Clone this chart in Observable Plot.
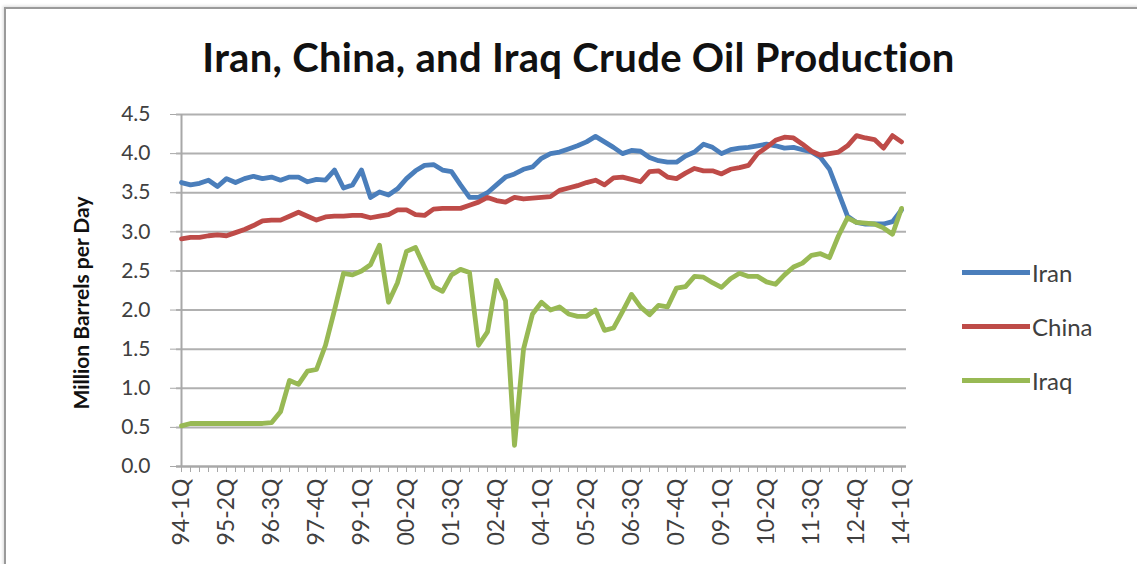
<!DOCTYPE html>
<html>
<head>
<meta charset="utf-8">
<script src="https://cdn.jsdelivr.net/npm/d3@7"></script>
<script src="https://cdn.jsdelivr.net/npm/@observablehq/plot@0.6"></script>
<style>
  html, body { margin: 0; padding: 0; background: #fff; }
  #wrap { position: relative; width: 1137px; height: 564px; overflow: hidden; font-family: Lato, "Open Sans", sans-serif; }
  #frame { position: absolute; left: 4px; top: 7px; width: 1200px; height: 620px; border-top: 2px solid #9a9a9a; border-left: 2px solid #9a9a9a; box-shadow: -1px -1px 3px rgba(0,0,0,0.15); }
  #title { position: absolute; left: 0; width: 1157px; top: 33px; text-align: center; font-size: 40px; font-weight: bold; color: #111; letter-spacing: 0.3px; }
  #ylabel { position: absolute; left: 80px; top: 303px; transform: translate(-50%, -50%) rotate(-90deg); white-space: nowrap; font-size: 21px; font-weight: bold; color: #111; }
  #legend { position: absolute; left: 962px; top: 245px; }
  .item { display: flex; align-items: center; height: 54px; font-size: 24px; color: #404040; }
  .swatch { width: 68px; height: 5px; margin-right: 2px; }
  #chart { position: absolute; left: 0; top: 0; }
</style>
</head>
<body>
<div id="wrap">
  <div id="frame"></div>
  <div id="chart"></div>
  <div id="title">Iran, China, and Iraq Crude Oil Production</div>
  <div id="ylabel">Million Barrels per Day</div>
  <div id="legend"></div>
</div>
<script>
const seriesNames = ["Iran", "China", "Iraq"];
const seriesColors = ["#4a7ebb", "#be4b48", "#98b954"];
const tickLabels = ["94-1Q","95-2Q","96-3Q","97-4Q","99-1Q","00-2Q","01-3Q","02-4Q","04-1Q","05-2Q","06-3Q","07-4Q","09-1Q","10-2Q","11-3Q","12-4Q","14-1Q"];
const yTicks = [0, 0.5, 1, 1.5, 2, 2.5, 3, 3.5, 4, 4.5];

// quarterly categories 94-1Q .. 14-1Q
const quarters = [];
for (let yr = 1994; yr <= 2014; yr++) {
  for (let q = 1; q <= 4; q++) {
    if (yr === 2014 && q > 1) break;
    quarters.push(String(yr % 100).padStart(2, "0") + "-" + q + "Q");
  }
}

const iran = [3.63,3.60,3.62,3.66,3.58,3.68,3.63,3.68,3.71,3.68,3.70,3.66,3.70,3.70,3.64,3.67,3.66,3.79,3.56,3.60,3.79,3.44,3.51,3.47,3.55,3.68,3.78,3.85,3.86,3.79,3.77,3.60,3.44,3.44,3.50,3.60,3.70,3.74,3.80,3.83,3.94,4.00,4.02,4.06,4.10,4.15,4.22,4.15,4.08,4.00,4.04,4.03,3.95,3.91,3.89,3.89,3.97,4.02,4.12,4.08,4.00,4.05,4.07,4.08,4.10,4.12,4.10,4.07,4.08,4.05,4.02,3.95,3.80,3.50,3.20,3.12,3.10,3.10,3.10,3.13,3.28];
const china = [2.91,2.93,2.93,2.95,2.96,2.95,2.99,3.03,3.08,3.14,3.15,3.15,3.20,3.25,3.20,3.15,3.19,3.20,3.20,3.21,3.21,3.18,3.20,3.22,3.28,3.28,3.22,3.21,3.29,3.30,3.30,3.30,3.34,3.38,3.44,3.40,3.38,3.44,3.42,3.43,3.44,3.45,3.53,3.56,3.59,3.63,3.66,3.60,3.69,3.70,3.67,3.64,3.77,3.78,3.70,3.68,3.75,3.81,3.78,3.78,3.74,3.80,3.82,3.85,4.00,4.08,4.17,4.21,4.20,4.12,4.03,3.98,4.00,4.02,4.10,4.23,4.20,4.18,4.07,4.23,4.15];
const iraq = [0.52,0.55,0.55,0.55,0.55,0.55,0.55,0.55,0.55,0.55,0.56,0.70,1.10,1.05,1.22,1.24,1.55,2.00,2.47,2.45,2.50,2.58,2.83,2.10,2.35,2.75,2.80,2.55,2.30,2.24,2.45,2.52,2.48,1.55,1.72,2.38,2.12,0.27,1.50,1.95,2.10,2.00,2.04,1.95,1.92,1.92,2.00,1.74,1.77,1.98,2.20,2.04,1.94,2.06,2.04,2.28,2.30,2.43,2.42,2.35,2.29,2.40,2.47,2.43,2.43,2.36,2.33,2.45,2.55,2.60,2.70,2.72,2.67,2.95,3.18,3.12,3.11,3.10,3.05,2.97,3.30];

const seriesValues = [iran, china, iraq];
const data = [];
seriesNames.forEach((name, s) => {
  seriesValues[s].forEach((v, i) => data.push({series: name, quarter: quarters[i], value: v}));
});

const chart = Plot.plot({
  width: 1137,
  height: 564,
  marginLeft: 176,
  marginRight: 231,
  marginTop: 114,
  marginBottom: 98,
  style: {fontFamily: "Lato, 'Open Sans', sans-serif", color: "#404040", background: "transparent"},
  x: {type: "point", domain: quarters, padding: 0},
  y: {domain: [0, 4.5]},
  color: {domain: seriesNames, range: seriesColors},
  marks: [
    Plot.gridY(yTicks, {stroke: "#b0b0b0", strokeOpacity: 1, strokeWidth: 2}),
    Plot.ruleX([quarters[0]], {stroke: "#a8a8a8", strokeWidth: 2}),
    Plot.ruleY([0], {stroke: "#a8a8a8", strokeWidth: 2}),
    Plot.axisY({ticks: yTicks, tickFormat: d => d.toFixed(1), tickSize: 6, tickPadding: 20, fontSize: 21, label: null, stroke: "#a8a8a8"}),
    Plot.axisX({ticks: quarters, tickSize: 6, tickPadding: 6, tickRotate: -90, fontSize: 23,
      tickFormat: d => tickLabels.includes(d) ? d : "", label: null, stroke: "#a8a8a8"}),
    Plot.lineY(data, {x: "quarter", y: "value", stroke: "series", strokeWidth: 4.8, strokeLinejoin: "round", strokeLinecap: "round"})
  ]
});
document.getElementById("chart").appendChild(chart);

const legend = document.getElementById("legend");
seriesNames.forEach((name, i) => {
  const item = document.createElement("div");
  item.className = "item";
  const sw = document.createElement("span");
  sw.className = "swatch";
  sw.style.background = seriesColors[i];
  const lab = document.createElement("span");
  lab.textContent = name;
  item.appendChild(sw);
  item.appendChild(lab);
  legend.appendChild(item);
});
</script>
</body>
</html>
